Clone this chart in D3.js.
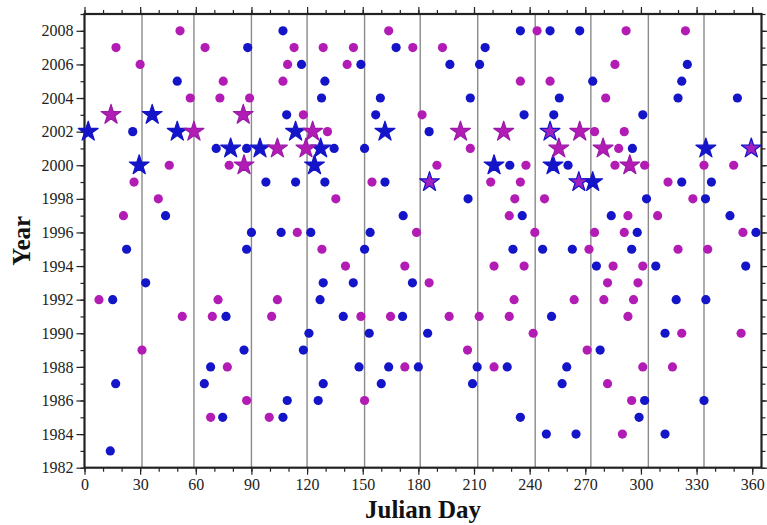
<!DOCTYPE html>
<html><head><meta charset="utf-8">
<script src="https://cdn.jsdelivr.net/npm/d3@7/dist/d3.min.js"></script>
<style>body{margin:0;background:#fff}svg{display:block}</style>
</head><body>
<svg id="c" width="767" height="525"></svg>
<script>
// Data: [julian day, year]
const blueDots = [
 [107,2008],[235,2008],[251,2008],[267,2008],
 [88,2007],[168,2007],[216,2007],
 [117,2006],[149,2006],[197,2006],[213,2006],[325,2006],
 [50,2005],[129.6,2005],[274,2005],[322,2005],
 [127.8,2004],[159.5,2004],[208,2004],[256,2004],[320,2004],[352,2004],
 [109,2003],[157,2003],[237,2003],[253,2003],[301,2003],
 [26,2002],[185.8,2002],
 [71,2001],[87.4,2001],[134.6,2001],[151,2001],[295.4,2001],
 [229.3,2000],[260.7,2000],
 [97.8,1999],[113.8,1999],[129.6,1999],[162,1999],[322,1999],[338,1999],
 [206.8,1998],[303,1998],[334.8,1998],
 [43.7,1997],[171.8,1997],[236,1997],[284,1997],[348,1997],
 [90,1996],[106,1996],[122,1996],[154,1996],[298,1996],[362,1996],
 [22.7,1995],[87.4,1995],[151,1995],[231,1995],[247,1995],[263,1995],[295,1995],
 [276,1994],[308,1994],[356.5,1994],
 [33,1993],[128.7,1993],[144.9,1993],[176.8,1993],
 [15.2,1992],[127,1992],[319,1992],[335,1992],
 [76.3,1991],[139.5,1991],[171.5,1991],[251.8,1991],
 [121,1990],[153.5,1990],[185,1990],[313,1990],
 [86,1989],[118,1989],[278,1989],
 [68,1988],[148,1988],[164,1988],[180,1988],[211.7,1988],[227.9,1988],[260,1988],
 [16.8,1987],[64.6,1987],[128.7,1987],[160,1987],[209.2,1987],[257.5,1987],
 [109.3,1986],[126,1986],[302,1986],[334,1986],
 [74.5,1985],[107,1985],[235,1985],[299,1985],
 [249,1984],[265,1984],[313,1984],
 [13.9,1983]
];
const magentaDots = [
 [51.5,2008],[164,2008],[244,2008],[292,2008],[324,2008],
 [17,2007],[65,2007],[113,2007],[128.7,2007],[145,2007],[177,2007],[193,2007],
 [30,2006],[109.5,2006],[141.6,2006],[286,2006],
 [74.8,2005],[107,2005],[235,2005],[251,2005],
 [57,2004],[73,2004],[89,2004],[281,2004],
 [118,2003],[182,2003],
 [131,2002],[275,2002],[291,2002],
 [208,2001],[288,2001],
 [45.7,2000],[78,2000],[190,2000],[238,2000],[286,2000],[302,2000],[334,2000],[350,2000],
 [26.7,1999],[155,1999],[219,1999],[235,1999],[314.6,1999],
 [39.8,1998],[135.5,1998],[232,1998],[248,1998],[328,1998],
 [21,1997],[229,1997],[293,1997],[309,1997],
 [114.7,1996],[179,1996],[242.8,1996],[275,1996],[291,1996],[355,1996],
 [128,1995],[272,1995],[320,1995],[336,1995],
 [140.7,1994],[172.7,1994],[220.8,1994],[237,1994],[285,1994],[301,1994],
 [185.8,1993],[282,1993],[298.4,1993],
 [7.8,1992],[72,1992],[104,1992],[231.6,1992],[264,1992],[280,1992],[296,1992],
 [52.7,1991],[68.9,1991],[100.9,1991],[149,1991],[165,1991],[196.6,1991],[212.8,1991],[229,1991],[293,1991],
 [241.9,1990],[322,1990],[354,1990],
 [31,1989],[206.5,1989],[271,1989],
 [77,1988],[172.7,1988],[220.8,1988],[301,1988],[317,1988],
 [282,1987],
 [87.4,1986],[151,1986],[295,1986],
 [68,1985],[99.6,1985],
 [290,1984]
];
const blueStars = [
 [2,2002],[36.5,2003],[29.5,2000],[50,2002],[78.8,2001],[94.6,2001],[113.8,2002],
 [127.3,2001],[124,2000],[162,2002],[220.8,2000],[252.6,2000],[274,1999],[335,2001]
];
const magentaStars = [
 [14.3,2003],[59,2002],[85.6,2003],[86,2000],[104,2001],[119.4,2001],[123,2002],
 [202.7,2002],[226,2002],[255.7,2001],[267,2002],[279.6,2001],[294,2000]
];
const mixedStars = [[186,1999],[251,2002],[266.5,1999],[359.5,2001]];
const monthBoundaries = [31,59,90,120,151,181,212,243,273,304,334];
const xTicks = d3.range(0, 361, 30);
const yTicks = d3.range(1982, 2009, 2);

const BLUE = "#1414c8", MAG = "#b21cb4";
const svg = d3.select("#c");
const L = 84.5, R = 761.5, T = 14, B = 467.7;
const x = d3.scaleLinear().domain([0, 365]).range([L, R]);
const y = d3.scaleLinear().domain([1982, 2009]).range([B, T]);
const font = "'Liberation Serif', 'Times New Roman', serif";

// month lines
svg.append("g").selectAll("line").data(monthBoundaries).join("line")
  .attr("x1", d => x(d)).attr("x2", d => x(d)).attr("y1", T).attr("y2", B)
  .attr("stroke", "#8a8a8a").attr("stroke-width", 1.4);

// axes
function styleAxis(g, labels) {
  g.select(".domain").remove();
  g.selectAll("line").attr("stroke", "#222").attr("stroke-width", 1.2);
  g.selectAll("text").attr("font-family", font).attr("font-size", 16).attr("fill", "#222");
  if (!labels) g.selectAll("text").remove();
}
const minorX = d3.range(0, 365, 10), minorY = d3.range(1982, 2010, 1);
svg.append("g").attr("transform", `translate(0,${B})`)
  .call(d3.axisBottom(x).tickValues(minorX).tickSize(4).tickFormat(""))
  .call(g => styleAxis(g, false));
svg.append("g").attr("transform", `translate(0,${B})`)
  .call(d3.axisBottom(x).tickValues(xTicks).tickSize(7).tickPadding(4).tickFormat(d3.format("d")))
  .call(g => styleAxis(g, true));
svg.append("g").attr("transform", `translate(0,${T})`)
  .call(d3.axisTop(x).tickValues(minorX).tickSize(4).tickFormat(""))
  .call(g => styleAxis(g, false));
svg.append("g").attr("transform", `translate(0,${T})`)
  .call(d3.axisTop(x).tickValues(xTicks).tickSize(7).tickFormat(""))
  .call(g => styleAxis(g, false));
svg.append("g").attr("transform", `translate(${L},0)`)
  .call(d3.axisLeft(y).tickValues(minorY).tickSize(4).tickFormat(""))
  .call(g => styleAxis(g, false));
svg.append("g").attr("transform", `translate(${L},0)`)
  .call(d3.axisLeft(y).tickValues(yTicks).tickSize(8).tickPadding(3).tickFormat(d3.format("d")))
  .call(g => styleAxis(g, true));
svg.append("g").attr("transform", `translate(${R},0)`)
  .call(d3.axisRight(y).tickValues(minorY).tickSize(4).tickFormat(""))
  .call(g => styleAxis(g, false));
svg.append("g").attr("transform", `translate(${R},0)`)
  .call(d3.axisRight(y).tickValues(yTicks).tickSize(7).tickFormat(""))
  .call(g => styleAxis(g, false));

// frame
svg.append("rect").attr("x", L).attr("y", T).attr("width", R - L).attr("height", B - T)
  .attr("fill", "none").attr("stroke", "#222").attr("stroke-width", 2.2);

// dots
function dots(data, color) {
  svg.append("g").selectAll("circle").data(data).join("circle")
    .attr("cx", d => x(d[0])).attr("cy", d => y(d[1])).attr("r", 4.6)
    .attr("fill", color);
}
dots(blueDots, BLUE);
dots(magentaDots, MAG);

const star = d3.symbol().type(d3.symbolStar).size(122);
function stars(data, fill, stroke) {
  svg.append("g").selectAll("path").data(data).join("path")
    .attr("d", star).attr("transform", d => `translate(${x(d[0])},${y(d[1])})`)
    .attr("fill", fill).attr("stroke", stroke).attr("stroke-width", 1.2).attr("stroke-linejoin", "round");
}
stars(blueStars, BLUE, BLUE);
stars(magentaStars, MAG, "#9a1aa8");
stars(mixedStars, "#a020c0", BLUE);

// titles
svg.append("text").attr("x", (L + R) / 2).attr("y", 518).attr("text-anchor", "middle")
  .attr("font-family", font).attr("font-weight", "bold").attr("font-size", 25).attr("fill", "#111")
  .text("Julian Day");
svg.append("text").attr("transform", `translate(30,${(T + B) / 2}) rotate(-90)`).attr("text-anchor", "middle")
  .attr("font-family", font).attr("font-weight", "bold").attr("font-size", 25).attr("fill", "#111")
  .text("Year");
</script>
</body></html>
